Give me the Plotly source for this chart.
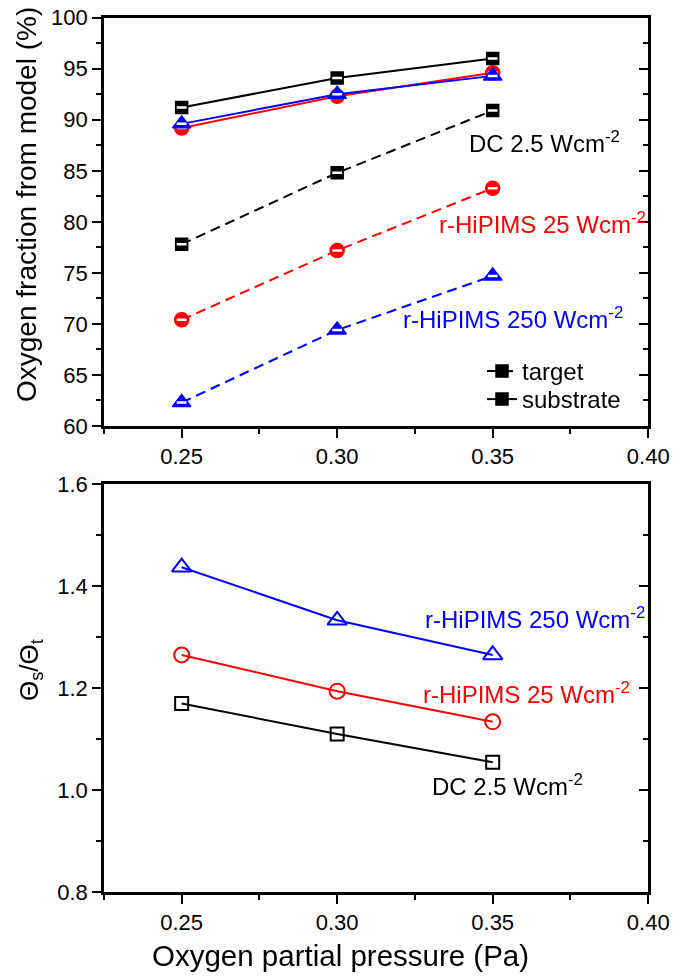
import plotly.graph_objects as go

# ---------------- data ----------------
pressure = [0.25, 0.30, 0.35]

dc_target = [77.8, 84.8, 90.9]
dc_substrate = [91.2, 94.1, 96.0]
hp25_target = [70.4, 77.2, 83.3]
hp25_substrate = [89.2, 92.3, 94.6]
hp250_target = [62.3, 69.4, 74.7]
hp250_substrate = [89.6, 92.5, 94.3]

ratio_dc = [1.170, 1.110, 1.055]
ratio_hp25 = [1.265, 1.194, 1.134]
ratio_hp250 = [1.437, 1.333, 1.265]

label_dc = "DC 2.5 Wcm<sup>-2</sup>"
label_hp25 = "r-HiPIMS 25 Wcm<sup>-2</sup>"
label_hp250 = "r-HiPIMS 250 Wcm<sup>-2</sup>"

BLACK = "#000000"
RED = "#FF0000"
BLUE = "#0000FF"
FONT = "Liberation Sans, Arial, sans-serif"

fig = go.Figure()

# ---------------- top panel ----------------
top_series = [
    (dc_target, BLACK, "square", 12, "dash", "target", True, "legend"),
    (dc_substrate, BLACK, "square", 12, "solid", "substrate", True, "legend2"),
    (hp25_target, RED, "circle", 14, "dash", None, False, "legend"),
    (hp25_substrate, RED, "circle", 14, "solid", None, False, "legend"),
    (hp250_target, BLUE, "triangle-up", 16, "dash", None, False, "legend"),
    (hp250_substrate, BLUE, "triangle-up", 16, "solid", None, False, "legend"),
]
for ys, col, sym, sz, dash, name, leg, lg in top_series:
    fig.add_trace(go.Scatter(
        x=pressure, y=ys, mode="lines+markers", name=name, showlegend=leg, legend=lg,
        line=dict(color=col, width=2, dash="10px,6px" if dash == "dash" else "solid"),
        marker=dict(symbol=sym, size=sz, color=col, line=dict(color=col, width=1.5)),
        xaxis="x", yaxis="y",
    ))
    # white stripe to mimic half-filled Origin symbols
    fig.add_trace(go.Scatter(
        x=pressure, y=ys, mode="markers", showlegend=False, hoverinfo="skip",
        marker=dict(symbol="line-ew", size=7, color="white",
                    line=dict(color="white", width=2.5)),
        xaxis="x", yaxis="y",
    ))

# ---------------- bottom panel ----------------
bottom_series = [
    (ratio_dc, BLACK, "square-open", 13),
    (ratio_hp25, RED, "circle-open", 15),
    (ratio_hp250, BLUE, "triangle-up-open", 17),
]
for ys, col, sym, sz in bottom_series:
    fig.add_trace(go.Scatter(
        x=pressure, y=ys, mode="lines+markers", showlegend=False,
        line=dict(color=col, width=2),
        marker=dict(symbol=sym, size=sz, color=col, line=dict(color=col, width=2)),
        xaxis="x2", yaxis="y2",
    ))

X_DOM = [103.9 / 688, 648.2 / 688]
TOP_DOM = [1 - 426 / 979, 1 - 17.7 / 979]
BOT_DOM = [1 - 892.3 / 979, 1 - 484 / 979]

common_x = dict(
    range=[0.225, 0.40], showline=True, linewidth=2.5, linecolor="black",
    mirror=True, ticks="outside", ticklen=9, tickwidth=2, tickcolor="black",
    tick0=0.25, dtick=0.05, tickformat=".2f", showgrid=False, zeroline=False,
    minor=dict(ticks="outside", ticklen=5, tickwidth=2, tickcolor="black",
               tick0=0.225, dtick=0.025, showgrid=False),
    tickfont=dict(size=22, family=FONT), automargin=False,
)
fig.update_layout(
    xaxis=dict(domain=X_DOM, anchor="y", **common_x),
    xaxis2=dict(domain=X_DOM, anchor="y2", **common_x),
    yaxis=dict(
        domain=TOP_DOM, anchor="x", range=[60, 100], showline=True, linewidth=2.5,
        linecolor="black", mirror=True, ticks="outside", ticklen=9, tickwidth=2,
        tickcolor="black", tick0=60, dtick=5, showgrid=False, zeroline=False,
        minor=dict(ticks="outside", ticklen=5, tickwidth=2, tickcolor="black",
                   dtick=2.5, showgrid=False),
        tickfont=dict(size=22, family=FONT), automargin=False,
    ),
    yaxis2=dict(
        domain=BOT_DOM, anchor="x2", range=[0.8, 1.6], showline=True, linewidth=2.5,
        linecolor="black", mirror=True, ticks="outside", ticklen=9, tickwidth=2,
        tickcolor="black", tick0=0.8, dtick=0.2, tickformat=".1f", showgrid=False,
        zeroline=False,
        minor=dict(ticks="outside", ticklen=5, tickwidth=2, tickcolor="black",
                   dtick=0.1, showgrid=False),
        tickfont=dict(size=22, family=FONT), automargin=False,
    ),
    yaxis3=dict(
        overlaying="y", side="right", anchor="x", range=[60, 100], showline=False,
        ticks="inside", ticklen=9, tickwidth=2, tickcolor="black", tick0=60, dtick=5,
        showticklabels=False, showgrid=False, zeroline=False,
        minor=dict(ticks="inside", ticklen=5, tickwidth=2, tickcolor="black",
                   dtick=2.5, showgrid=False),
    ),
    yaxis4=dict(
        overlaying="y2", side="right", anchor="x2", range=[0.8, 1.6], showline=False,
        ticks="inside", ticklen=9, tickwidth=2, tickcolor="black", tick0=0.8, dtick=0.2,
        showticklabels=False, showgrid=False, zeroline=False,
        minor=dict(ticks="inside", ticklen=5, tickwidth=2, tickcolor="black",
                   dtick=0.1, showgrid=False),
    ),
)

# invisible traces so the right-hand tick axes are drawn
fig.add_trace(go.Scatter(x=pressure, y=dc_target, mode="markers", opacity=0,
                         showlegend=False, hoverinfo="skip", xaxis="x", yaxis="y3"))
fig.add_trace(go.Scatter(x=pressure, y=ratio_dc, mode="markers", opacity=0,
                         showlegend=False, hoverinfo="skip", xaxis="x2", yaxis="y4"))

annotations = [
    # series labels, top panel
    dict(text=label_dc, x=0.3418, y=87.8, xref="x", yref="y", font=dict(color=BLACK)),
    dict(text=label_hp25, x=0.3321, y=79.9, xref="x", yref="y", font=dict(color=RED)),
    dict(text=label_hp250, x=0.3205, y=70.6, xref="x", yref="y", font=dict(color=BLUE)),
    # series labels, bottom panel
    dict(text=label_hp250, x=0.3276, y=1.337, xref="x2", yref="y2", font=dict(color=BLUE)),
    dict(text=label_hp25, x=0.3270, y=1.190, xref="x2", yref="y2", font=dict(color=RED)),
    dict(text=label_dc, x=0.3298, y=1.010, xref="x2", yref="y2", font=dict(color=BLACK)),
]
for a in annotations:
    a.update(showarrow=False, xanchor="left", yanchor="middle")
    a["font"].update(size=24, family=FONT)

annotations += [
    dict(text="Oxygen fraction from model (%)", x=27 / 688, y=1 - 205 / 979,
         xref="paper", yref="paper", textangle=-90, showarrow=False,
         xanchor="center", yanchor="middle", font=dict(size=28, family=FONT)),
    dict(text="Θ<sub>s</sub>/Θ<sub>t</sub>", x=30 / 688, y=1 - 670 / 979,
         xref="paper", yref="paper", textangle=-90, showarrow=False,
         xanchor="center", yanchor="middle", font=dict(size=26, family=FONT)),
    dict(text="Oxygen partial pressure (Pa)", x=340 / 688, y=1 - 955 / 979,
         xref="paper", yref="paper", showarrow=False,
         xanchor="center", yanchor="middle", font=dict(size=29.5, family=FONT)),
]

legend_common = dict(xanchor="left", yanchor="top", bgcolor="rgba(0,0,0,0)",
                     font=dict(size=24, family=FONT), itemsizing="trace")
fig.update_layout(
    width=688, height=979, margin=dict(l=0, r=0, t=0, b=0),
    plot_bgcolor="white", paper_bgcolor="white",
    font=dict(family=FONT, size=22, color="black"),
    annotations=annotations,
    legend=dict(x=482 / 688, y=1 - 349 / 979, **legend_common),
    legend2=dict(x=482 / 688, y=1 - 377 / 979, **legend_common),
)

fig.write_html("out.html")
